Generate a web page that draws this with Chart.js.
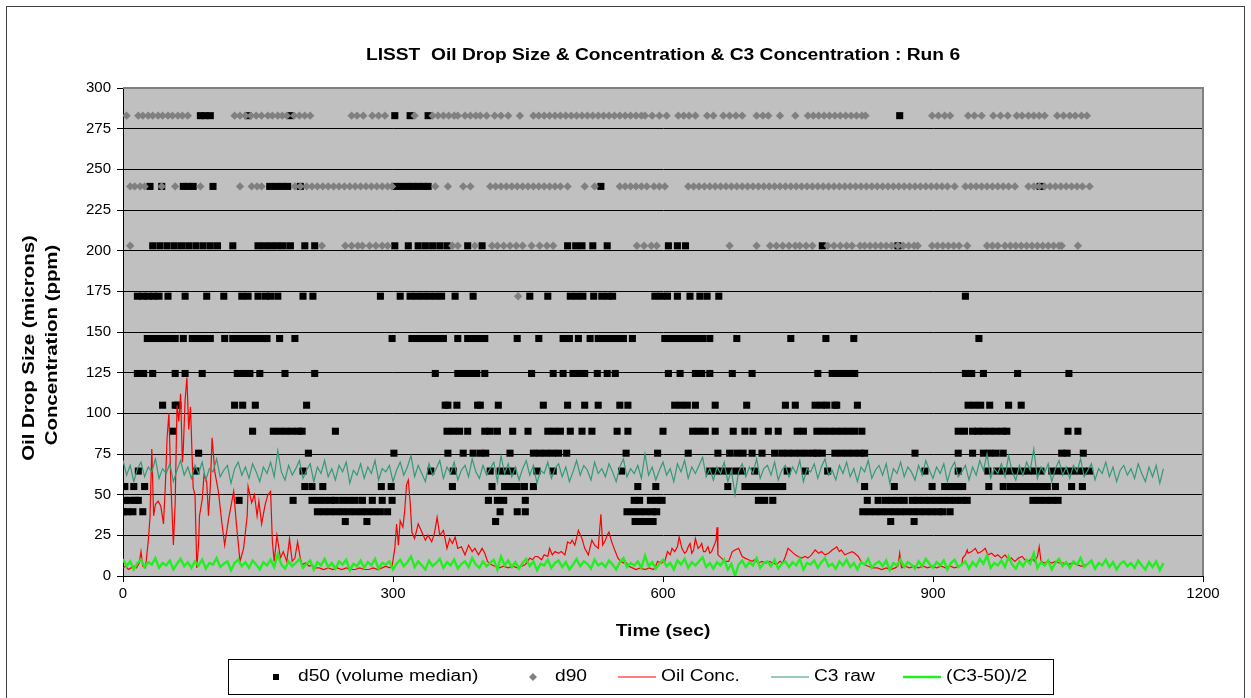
<!DOCTYPE html>
<html>
<head>
<meta charset="utf-8">
<script src="https://cdn.jsdelivr.net/npm/chart.js@4.4.1/dist/chart.umd.min.js"></script>
<style>
  html, body { margin: 0; padding: 0; background: #fff; }
  #wrap { width: 1251px; height: 698px; }
</style>
</head>
<body>
<div id="wrap"><canvas id="chart" width="1251" height="698"></canvas></div>
<script>
// Axis ticks
const X_TICKS = [0, 300, 600, 900, 1200];
const Y_TICKS = [0, 25, 50, 75, 100, 125, 150, 175, 200, 225, 250, 275, 300];

// d50 (volume median) - size bin level (microns) and times (sec) where it was recorded
const d50Levels = [283, 239.5, 203, 172, 146, 124.5, 105, 89, 75.5, 64.5, 55, 46.5, 39.5, 33.5];
const d50At283 = [86, 91, 97, 139, 186, 302, 319, 339, 863];
const d50At239 = [30, 43, 67, 72, 78, 100, 163, 170, 177, 183, 197, 302, 309, 316, 322, 328, 334, 339, 531, 1019];
const d50At203 = [33, 41, 49, 57, 65, 73, 81, 89, 97, 105, 122, 150, 157, 164, 171, 178, 186, 202, 213, 302, 317, 328, 336, 344, 352, 360, 383, 399, 494, 503, 510, 522, 538, 606, 616, 625, 777, 861];
const d50At172 = [16, 22, 28, 34, 40, 50, 69, 93, 112, 132, 139, 150, 158, 164, 172, 200, 211, 286, 308, 319, 326, 333, 340, 347, 354, 369, 389, 452, 472, 497, 504, 511, 523, 532, 539, 544, 591, 598, 605, 616, 630, 641, 649, 662, 936];
const d50At146 = [27, 34, 41, 48, 55, 58, 67, 77, 84, 91, 97, 113, 122, 129, 136, 143, 150, 157, 160, 174, 191, 299, 321, 328, 335, 342, 349, 356, 372, 383, 390, 397, 402, 438, 462, 489, 496, 506, 519, 528, 535, 542, 549, 556, 566, 602, 609, 616, 623, 630, 637, 644, 652, 682, 742, 781, 812, 951];
const d50At124 = [16, 23, 33, 58, 69, 88, 127, 134, 141, 152, 180, 213, 347, 372, 379, 386, 393, 402, 454, 478, 489, 500, 507, 513, 527, 538, 547, 606, 619, 636, 643, 652, 677, 699, 772, 788, 795, 802, 809, 813, 936, 943, 956, 994, 1051];
const d50At105 = [44, 58, 61, 124, 133, 147, 204, 358, 361, 371, 394, 397, 417, 467, 494, 513, 528, 552, 561, 613, 620, 627, 636, 658, 693, 736, 747, 769, 776, 782, 791, 793, 816, 939, 946, 953, 963, 984, 998];
const d50At89 = [56, 144, 167, 174, 181, 188, 195, 199, 236, 360, 367, 374, 383, 402, 408, 416, 433, 450, 472, 479, 486, 497, 510, 521, 549, 561, 600, 633, 640, 647, 658, 678, 691, 700, 717, 728, 749, 756, 771, 778, 785, 792, 799, 806, 813, 821, 928, 935, 944, 950, 956, 963, 970, 977, 982, 1050, 1061];
const d50At75 = [84, 206, 301, 361, 378, 389, 397, 403, 430, 456, 463, 470, 477, 484, 493, 559, 594, 628, 661, 674, 682, 689, 699, 710, 724, 732, 739, 746, 753, 760, 767, 771, 777, 791, 798, 805, 812, 819, 824, 880, 928, 944, 956, 963, 970, 978, 1043, 1049, 1067];
const d50At64 = [17, 81, 200, 342, 367, 408, 419, 426, 433, 460, 478, 554, 652, 659, 666, 673, 681, 688, 702, 738, 758, 783, 891, 928, 961, 971, 978, 985, 992, 999, 1006, 1013, 1020, 1032, 1039, 1046, 1053, 1060, 1067, 1074];
const d50At55 = [2, 12, 24, 202, 210, 222, 287, 298, 366, 410, 424, 431, 438, 446, 456, 572, 592, 672, 691, 698, 705, 712, 719, 726, 733, 824, 857, 899, 913, 920, 927, 933, 962, 978, 986, 993, 999, 1006, 1013, 1020, 1027, 1036, 1054, 1066];
const d50At46 = [2, 8, 14, 17, 129, 189, 210, 217, 224, 231, 236, 244, 251, 258, 266, 277, 288, 299, 406, 416, 423, 447, 568, 574, 586, 593, 599, 706, 713, 722, 827, 839, 847, 854, 861, 868, 877, 883, 890, 897, 904, 911, 918, 925, 932, 938, 1011, 1018, 1025, 1032, 1039];
const d50At39 = [0, 5, 11, 22, 216, 223, 230, 237, 244, 251, 258, 265, 272, 279, 286, 294, 419, 438, 447, 560, 567, 574, 581, 588, 593, 822, 829, 836, 843, 850, 857, 864, 871, 878, 885, 892, 899, 906, 911, 919];
const d50At33 = [247, 271, 414, 569, 576, 583, 589, 853, 879];
const d50Times = [d50At283, d50At239, d50At203, d50At172, d50At146, d50At124, d50At105, d50At89, d50At75, d50At64, d50At55, d50At46, d50At39, d50At33];

// d90 - size bin level (microns) and times (sec)
const d90Levels = [283, 239.5, 203, 172];
const d90At283 = [4, 17, 22, 28, 33, 39, 44, 50, 55, 61, 66, 72, 124, 130, 136, 142, 148, 154, 161, 166, 172, 177, 182, 190, 196, 202, 208, 254, 260, 267, 277, 284, 291, 324, 344, 350, 356, 362, 368, 372, 380, 386, 392, 397, 404, 413, 420, 428, 441, 456, 462, 468, 474, 480, 486, 492, 498, 504, 510, 516, 522, 528, 534, 540, 546, 552, 558, 564, 570, 576, 580, 588, 596, 604, 617, 623, 629, 636, 649, 656, 667, 674, 681, 688, 704, 711, 717, 730, 747, 761, 767, 773, 779, 785, 791, 797, 803, 809, 815, 821, 825, 899, 906, 913, 919, 939, 946, 954, 967, 975, 983, 993, 999, 1006, 1012, 1018, 1024, 1038, 1045, 1052, 1058, 1065, 1071];
const d90At239 = [8, 13, 19, 24, 43, 58, 86, 130, 143, 149, 154, 191, 197, 204, 210, 216, 222, 228, 234, 240, 246, 252, 258, 264, 270, 276, 282, 288, 294, 299, 347, 361, 378, 386, 408, 414, 420, 426, 432, 438, 444, 450, 456, 462, 468, 474, 480, 486, 494, 513, 524, 552, 558, 564, 570, 576, 582, 590, 596, 602, 628, 634, 640, 646, 652, 658, 664, 670, 676, 682, 688, 694, 700, 706, 712, 718, 724, 730, 736, 742, 748, 754, 760, 766, 772, 778, 784, 790, 796, 802, 808, 814, 820, 826, 832, 838, 844, 850, 856, 862, 868, 874, 880, 886, 892, 898, 904, 910, 916, 924, 936, 942, 948, 954, 960, 966, 972, 978, 984, 991, 1006, 1012, 1018, 1024, 1030, 1036, 1042, 1048, 1054, 1060, 1066, 1074];
const d90At203 = [8, 221, 247, 254, 261, 266, 274, 281, 288, 294, 366, 372, 391, 410, 416, 423, 430, 437, 444, 454, 463, 471, 478, 571, 579, 587, 593, 674, 704, 719, 726, 733, 740, 747, 752, 759, 766, 783, 790, 797, 804, 810, 819, 824, 830, 836, 842, 848, 854, 861, 867, 873, 879, 883, 899, 905, 911, 917, 923, 929, 938, 960, 966, 972, 980, 986, 992, 998, 1004, 1010, 1016, 1022, 1028, 1034, 1040, 1043, 1061];
const d90At172 = [439];
const d90Times = [d90At283, d90At239, d90At203, d90At172];

// Oil Conc. (ppm) as [time, value]
const oilConc = [
  [0,5],[3,6],[6,4],[9,5],[12,6],[15,5],[18,8],[20,15],[22,6],[25,5],[28,21],[30,36],[32,78],[34,37],[36,44],[39,46],[42,43],[45,32],[47,55],[49,85],[51,100],[53,60],[56,19],[58,45],[60,105],[62,95],[64,112],[66,70],[67,78],[69,108],[71,122],[73,90],[75,104],[77,70],[78,54],[80,50],[82,5],[84,20],[85,37],[88,47],[90,62],[93,58],[95,37],[97,55],[99,85],
  [102,64],[106,52],[110,32],[113,19],[117,34],[121,46],[123,52],[126,32],[130,9],[134,17],[138,37],[139,55],[143,45],[146,50],[149,37],[151,46],[154,32],[158,44],[161,50],[164,52],[166,21],[168,9],[171,25],[175,11],[178,15],[182,9],[185,23],[188,9],[191,11],[194,21],[197,11],[199,7],
  [203,8],[207,6],[210,7],[213,5],[218,5],[223,4],[228,5],[233,4],[238,5],[243,4],[248,5],[253,4],[258,4],[263,5],[268,4],[273,4],[278,5],[283,4],[288,5],[292,6],[296,5],[299,6],
  [302,17],[304,32],[306,19],[308,34],[311,30],[313,40],[315,56],[317,59],[319,46],[321,27],[324,23],[328,32],[332,27],[336,22],[339,25],[343,21],[346,26],[349,36],[352,25],[356,28],[360,17],[363,23],[366,20],[369,24],[372,17],[376,18],[380,13],[384,19],[388,15],[391,17],[395,13],[399,17],
  [402,14],[405,9],[409,7],[413,6],[418,5],[423,6],[428,5],[433,6],[438,5],[443,6],[447,7],[452,11],[455,10],[458,12],[461,12],[465,10],[468,13],[472,12],[474,17],[477,13],[480,15],[484,14],[487,15],[491,13],[494,21],[497,20],[499,22],
  [502,19],[506,28],[510,23],[513,17],[517,13],[521,22],[524,19],[528,17],[531,38],[533,19],[536,22],[538,25],[540,27],[543,21],[547,15],[550,11],[553,9],[556,8],[558,9],[562,6],[566,5],[570,4],[575,5],[580,4],[585,5],[589,4],[591,5],[594,9],[598,8],
  [602,9],[605,15],[608,13],[610,17],[613,15],[616,18],[618,24],[621,17],[624,14],[626,15],[628,18],[630,20],[632,14],[634,16],[636,23],[639,17],[641,18],[643,20],[645,15],[647,15],[650,18],[652,14],[654,15],[657,19],[659,22],[660,30],[661,13],[665,11],[669,9],[673,9],[677,15],[680,16],[684,17],[688,12],[691,11],[695,10],[699,9],
  [702,10],[706,8],[710,9],[714,8],[718,9],[722,8],[726,7],[730,9],[733,8],[736,12],[739,17],[743,15],[747,13],[750,12],[754,11],[758,12],[761,11],[765,13],[769,16],[773,14],[776,15],[780,13],[784,14],[788,16],[791,17],[793,18],[796,15],[798,16],
  [802,13],[806,14],[810,15],[813,14],[817,12],[820,9],[824,7],[828,6],[833,5],[838,5],[843,4],[848,5],[853,4],[858,5],[861,6],[863,14],[865,5],[869,6],[874,5],[879,6],[884,5],[889,6],[894,5],[899,6],
  [904,5],[909,6],[914,5],[919,6],[924,5],[929,6],[932,7],[933,11],[936,13],[938,16],[939,14],[943,15],[947,17],[950,14],[954,15],[958,17],[961,13],[965,14],[969,12],[972,13],[976,11],[980,13],[984,10],[987,11],[991,9],[995,11],[999,12],
  [1002,10],[1006,9],[1010,11],[1013,9],[1016,12],[1018,18],[1020,9],[1024,8],[1028,9],[1032,8],[1036,9],[1040,8],[1045,8],[1050,7],[1055,8],[1060,7],[1065,6],[1070,7]
];

// C3 raw, one reading every 4 sec from t = 0
const C3_STEP = 4;
const c3Raw = [
  71, 62, 68, 58, 66, 70, 61, 67, 64, 72,
  60, 66, 63, 69, 58, 65, 71, 62, 67, 60,
  68, 63, 70, 59, 66, 64, 72, 61, 65, 68,
  57, 66, 70, 62, 67, 60, 69, 64, 58, 67,
  63, 70, 61, 77, 64, 59, 68, 62, 66, 71,
  60, 65, 69, 58, 67, 63, 71, 61, 66, 59,
  68, 64, 70, 57, 65, 62, 69, 60, 67, 63,
  71, 59, 66, 64, 68, 58, 65, 70, 62, 67,
  74, 61, 68, 63, 58, 69, 62, 66, 71, 60,
  67, 63, 70, 59, 65, 68, 61, 72, 64, 60,
  68, 62, 66, 70, 58, 74, 63, 69, 61, 67,
  59, 66, 71, 62, 68, 57, 65, 63, 70, 60,
  66, 69, 61, 67, 58, 64, 71, 62, 68, 65,
  59, 70, 63, 66, 61, 69, 64, 58, 67, 72,
  61, 66, 63, 68, 60, 75, 62, 67, 59, 65,
  70, 62, 66, 58, 69, 64, 71, 60, 67, 63,
  68, 73, 61, 66, 59, 67, 63, 70, 58, 65,
  50, 64, 69, 61, 67, 63, 72, 60, 66, 68,
  62, 70, 59, 65, 68, 61, 67, 63, 71, 58,
  66, 64, 69, 60, 67, 72, 62, 65, 59, 68,
  63, 70, 61, 66, 58, 67, 64, 71, 60, 65,
  68, 62, 69, 57, 66, 63, 70, 61, 67, 64,
  59, 68, 62, 71, 65, 60, 67, 63, 69, 58,
  66, 70, 61, 64, 68, 59, 67, 62, 71, 65,
  75, 60, 66, 63, 69, 61, 74, 64, 59, 68,
  62, 70, 65, 78, 60, 67, 63, 69, 58, 66,
  71, 62, 67, 60, 68, 64, 72, 61, 65, 69,
  59, 66, 63, 70, 61, 67, 58, 65, 68, 62,
  66, 60, 69, 63, 58, 67, 61, 68, 57, 66
];

const FONT = "'Liberation Sans', Arial, sans-serif";
const TEAL = '#339977';
const GREEN = '#22EE22';

function levelPoints(levels, timeLists) {
  const pts = [];
  levels.forEach((lv, i) => timeLists[i].forEach(t => pts.push({ x: t, y: lv })));
  return pts;
}

const d50Points = levelPoints(d50Levels, d50Times);
const d90Points = levelPoints(d90Levels, d90Times);
const oilPoints = oilConc.map(p => ({ x: p[0], y: p[1] }));
const c3Points = c3Raw.map((v, i) => ({ x: i * C3_STEP, y: v }));
const c3HalfPoints = c3Raw.map((v, i) => ({ x: i * C3_STEP, y: (v - 50) / 2 }));

// text drawn a little wider, like the original picture
function wideText(ctx, text, x, y, font, align, rot) {
  ctx.save();
  ctx.translate(x, y);
  if (rot) ctx.rotate(rot);
  ctx.scale(1.2, 1);
  ctx.font = font;
  ctx.textAlign = align;
  ctx.textBaseline = 'middle';
  ctx.fillStyle = '#000';
  ctx.fillText(text, 0, 0);
  ctx.restore();
}

const framePlugin = {
  id: 'frame',
  beforeDraw(chart) {
    const { ctx, chartArea: a } = chart;
    ctx.save();
    ctx.fillStyle = '#fff';
    ctx.fillRect(0, 0, chart.width, chart.height);
    ctx.fillStyle = '#C0C0C0';
    ctx.fillRect(a.left, a.top, a.right - a.left, a.bottom - a.top);
    ctx.restore();
  },
  afterDraw(chart) {
    const { ctx, chartArea: a } = chart;
    ctx.save();
    // plot area border (top / right)
    ctx.strokeStyle = '#808080';
    ctx.lineWidth = 2;
    ctx.beginPath();
    ctx.moveTo(a.left, a.top);
    ctx.lineTo(a.right, a.top);
    ctx.lineTo(a.right, a.bottom);
    ctx.stroke();
    // chart border
    ctx.strokeStyle = '#404040';
    ctx.lineWidth = 1;
    ctx.strokeRect(6.5, 6.5, 1238, 720);

    // titles
    wideText(ctx, 'LISST  Oil Drop Size & Concentration & C3 Concentration : Run 6', 663, 56, 'bold 16px ' + FONT, 'center');
    wideText(ctx, 'Time (sec)', 663, 632, 'bold 16px ' + FONT, 'center');
    wideText(ctx, 'Oil Drop Size (microns)', 29, 348, 'bold 17px ' + FONT, 'center', -Math.PI / 2);
    wideText(ctx, 'Concentration (ppm)', 52, 345, 'bold 17px ' + FONT, 'center', -Math.PI / 2);

    // legend
    const ly = 677;
    ctx.fillStyle = '#fff';
    ctx.fillRect(228.5, 659.5, 825, 35);
    ctx.strokeStyle = '#000';
    ctx.lineWidth = 1;
    ctx.strokeRect(228.5, 659.5, 825, 35);
    ctx.fillStyle = '#000';
    ctx.fillRect(273, ly - 3, 6, 6);
    wideText(ctx, 'd50 (volume median)', 298, ly, '16px ' + FONT, 'left');
    ctx.fillStyle = '#808080';
    ctx.beginPath();
    ctx.moveTo(533, ly - 4); ctx.lineTo(537, ly); ctx.lineTo(533, ly + 4); ctx.lineTo(529, ly);
    ctx.closePath(); ctx.fill();
    wideText(ctx, 'd90', 555, ly, '16px ' + FONT, 'left');
    const lines = [['#FF0000', 1.2, 618, 'Oil Conc.'], [TEAL, 1.2, 771, 'C3 raw'], [GREEN, 2.4, 903, '(C3-50)/2']];
    lines.forEach(([c, w, x0, label]) => {
      ctx.strokeStyle = c; ctx.lineWidth = w;
      ctx.beginPath(); ctx.moveTo(x0, ly); ctx.lineTo(x0 + 38, ly); ctx.stroke();
      wideText(ctx, label, x0 + 43, ly, '16px ' + FONT, 'left');
    });
    ctx.restore();
  }
};

new Chart(document.getElementById('chart'), {
  type: 'line',
  data: {
    datasets: [
      { label: 'd50 (volume median)', data: d50Points, showLine: false, order: 5,
        pointStyle: 'rect', pointRadius: 5, pointBackgroundColor: '#000', pointBorderWidth: 0, pointHoverRadius: 0 },
      { label: 'd90', data: d90Points, showLine: false, order: 4,
        pointStyle: 'rectRot', pointRadius: 4.2, pointBackgroundColor: '#808080', pointBorderWidth: 0, pointHoverRadius: 0 },
      { label: 'Oil Conc.', data: oilPoints, order: 3, borderColor: '#FF0000', borderWidth: 1.2, pointRadius: 0 },
      { label: 'C3 raw', data: c3Points, order: 2, borderColor: TEAL, borderWidth: 1.2, pointRadius: 0 },
      { label: '(C3-50)/2', data: c3HalfPoints, order: 1, borderColor: GREEN, borderWidth: 2.4, pointRadius: 0 }
    ]
  },
  options: {
    responsive: false,
    animation: false,
    devicePixelRatio: 1,
    layout: { padding: { top: 88, right: 48, bottom: 92, left: 0 } },
    elements: { line: { tension: 0, fill: false } },
    plugins: { legend: { display: false }, title: { display: false }, tooltip: { enabled: false } },
    scales: {
      x: {
        type: 'linear', min: X_TICKS[0], max: X_TICKS[X_TICKS.length - 1],
        afterFit: s => { s.height = 30; },
        afterBuildTicks: s => { s.ticks = X_TICKS.map(v => ({ value: v })); },
        ticks: { color: '#000', font: { family: FONT, size: 15 }, padding: 3, maxRotation: 0, callback: v => String(v) },
        grid: { drawOnChartArea: false, drawTicks: true, tickLength: 6, color: '#000' },
        border: { color: '#000', width: 1 }
      },
      y: {
        min: Y_TICKS[0], max: Y_TICKS[Y_TICKS.length - 1],
        afterFit: s => { s.width = 123; },
        afterBuildTicks: s => { s.ticks = Y_TICKS.map(v => ({ value: v })); },
        ticks: { color: '#000', font: { family: FONT, size: 15 }, padding: 6, callback: v => String(v) },
        grid: { color: '#000', tickLength: 6 },
        border: { color: '#000', width: 1 }
      }
    }
  },
  plugins: [framePlugin]
});
</script>
</body>
</html>
